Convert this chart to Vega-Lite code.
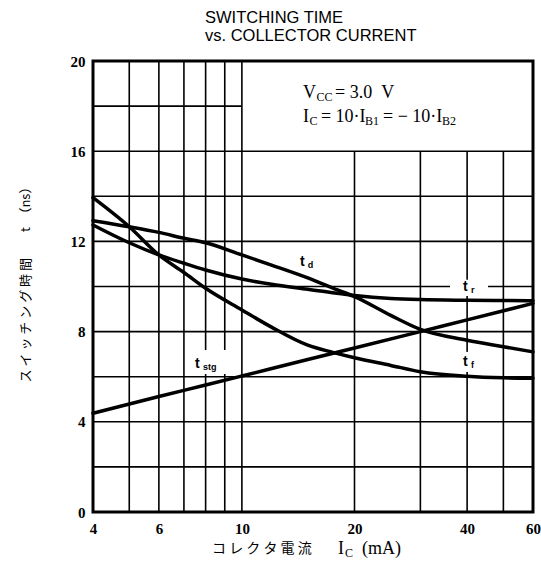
{
  "$schema": "https://vega.github.io/schema/vega-lite/v6.json",
  "width": 440,
  "height": 451,
  "autosize": {"type": "none"},
  "padding": {"left": 93, "top": 61, "right": 8, "bottom": 63},
  "background": "white",
  "title": {
    "text": ["SWITCHING TIME", "vs. COLLECTOR CURRENT"],
    "anchor": "start",
    "frame": "group",
    "dx": 112,
    "offset": 10,
    "font": "Liberation Sans",
    "fontSize": 16.5,
    "fontWeight": "normal",
    "lineHeight": 18,
    "color": "black"
  },
  "config": {
    "view": {"stroke": "black", "strokeWidth": 3},
    "axis": {
      "grid": false,
      "domain": false,
      "ticks": false,
      "labelFont": "Liberation Serif",
      "labelFontWeight": "bold",
      "labelFontSize": 15,
      "labelColor": "black"
    }
  },
  "datasets": {
    "curves": [
      {"series": "tf", "ic": 4, "t": 13.94}, {"series": "tf", "ic": 5, "t": 12.65}, {"series": "tf", "ic": 6, "t": 11.4},
      {"series": "tf", "ic": 7, "t": 10.62}, {"series": "tf", "ic": 8, "t": 9.92}, {"series": "tf", "ic": 10, "t": 8.96},
      {"series": "tf", "ic": 12, "t": 8.2}, {"series": "tf", "ic": 15, "t": 7.4}, {"series": "tf", "ic": 17.5, "t": 7.08},
      {"series": "tf", "ic": 20, "t": 6.84}, {"series": "tf", "ic": 25, "t": 6.5}, {"series": "tf", "ic": 30, "t": 6.22},
      {"series": "tf", "ic": 40, "t": 6.02}, {"series": "tf", "ic": 50, "t": 5.95}, {"series": "tf", "ic": 60, "t": 5.93},
      {"series": "td", "ic": 4, "t": 12.92}, {"series": "td", "ic": 5, "t": 12.65}, {"series": "td", "ic": 6, "t": 12.4},
      {"series": "td", "ic": 7, "t": 12.14}, {"series": "td", "ic": 8, "t": 11.94}, {"series": "td", "ic": 10, "t": 11.4},
      {"series": "td", "ic": 12, "t": 10.95}, {"series": "td", "ic": 15, "t": 10.38}, {"series": "td", "ic": 18, "t": 9.85},
      {"series": "td", "ic": 20, "t": 9.55}, {"series": "td", "ic": 25, "t": 8.72}, {"series": "td", "ic": 30, "t": 8.1},
      {"series": "td", "ic": 40, "t": 7.62}, {"series": "td", "ic": 50, "t": 7.33}, {"series": "td", "ic": 60, "t": 7.1},
      {"series": "tr", "ic": 4, "t": 12.73}, {"series": "tr", "ic": 5, "t": 11.94}, {"series": "tr", "ic": 6, "t": 11.4},
      {"series": "tr", "ic": 7, "t": 11.03}, {"series": "tr", "ic": 8, "t": 10.73}, {"series": "tr", "ic": 10, "t": 10.33},
      {"series": "tr", "ic": 12, "t": 10.1}, {"series": "tr", "ic": 15, "t": 9.88}, {"series": "tr", "ic": 20, "t": 9.6},
      {"series": "tr", "ic": 25, "t": 9.47}, {"series": "tr", "ic": 30, "t": 9.42}, {"series": "tr", "ic": 40, "t": 9.39},
      {"series": "tr", "ic": 60, "t": 9.37},
      {"series": "tstg", "ic": 4, "t": 4.38}, {"series": "tstg", "ic": 6, "t": 5.12}, {"series": "tstg", "ic": 8, "t": 5.63},
      {"series": "tstg", "ic": 10, "t": 6.03}, {"series": "tstg", "ic": 15, "t": 6.76}, {"series": "tstg", "ic": 20, "t": 7.27},
      {"series": "tstg", "ic": 30, "t": 8.0}, {"series": "tstg", "ic": 40, "t": 8.52}, {"series": "tstg", "ic": 60, "t": 9.25}
    ],
    "vgrid": [
      {"x": 5, "lo": 0, "hi": 20}, {"x": 6, "lo": 0, "hi": 20}, {"x": 7, "lo": 0, "hi": 20},
      {"x": 8, "lo": 0, "hi": 20}, {"x": 9, "lo": 0, "hi": 20}, {"x": 10, "lo": 0, "hi": 20},
      {"x": 20, "lo": 0, "hi": 16}, {"x": 30, "lo": 0, "hi": 16}, {"x": 40, "lo": 0, "hi": 16}, {"x": 50, "lo": 0, "hi": 16}
    ],
    "hgrid": [
      {"y": 2, "from": 4, "to": 60}, {"y": 4, "from": 4, "to": 60}, {"y": 6, "from": 4, "to": 60},
      {"y": 8, "from": 4, "to": 60}, {"y": 10, "from": 4, "to": 60}, {"y": 12, "from": 4, "to": 60},
      {"y": 14, "from": 4, "to": 60}, {"y": 16, "from": 4, "to": 60}, {"y": 18, "from": 4, "to": 10}
    ],
    "boxes": [
      {"x1": 7.45, "x2": 9.15, "y1": 6.12, "y2": 7.18},
      {"x1": 36, "x2": 45.5, "y1": 9.58, "y2": 10.3},
      {"x1": 37.8, "x2": 43.8, "y1": 6.21, "y2": 7.1}
    ],
    "texts": [
      {"seg": "V", "x": 14.57, "y": 18.58, "kind": "serif"},
      {"seg": "CC", "x": 15.83, "y": 18.58, "kind": "serifsub"},
      {"seg": "=\u00a03.0\u00a0\u00a0V", "x": 17.74, "y": 18.58, "kind": "serif"},
      {"seg": "I", "x": 14.57, "y": 17.52, "kind": "serif"},
      {"seg": "C", "x": 15.16, "y": 17.52, "kind": "serifsub"},
      {"seg": "=\u00a010·I", "x": 16.27, "y": 17.52, "kind": "serif"},
      {"seg": "B1", "x": 21.34, "y": 17.52, "kind": "serifsub"},
      {"seg": "=\u00a0−\u00a010·I", "x": 23.84, "y": 17.52, "kind": "serif"},
      {"seg": "B2", "x": 34.27, "y": 17.52, "kind": "serifsub"},
      {"seg": "t", "x": 14.3, "y": 11.09, "kind": "lab"},
      {"seg": "d", "x": 15.0, "y": 11.09, "kind": "labsub"},
      {"seg": "t", "x": 39.0, "y": 9.98, "kind": "lab"},
      {"seg": "r", "x": 40.97, "y": 9.98, "kind": "labsub"},
      {"seg": "t", "x": 39.0, "y": 6.65, "kind": "lab"},
      {"seg": "f", "x": 40.97, "y": 6.65, "kind": "labsub"},
      {"seg": "t", "x": 7.49, "y": 6.56, "kind": "lab"},
      {"seg": "stg", "x": 7.87, "y": 6.56, "kind": "labsub"},
      {"seg": "コ レ ク タ 電 流", "x": 8.32, "y": -1.64, "kind": "cjk"},
      {"seg": "I", "x": 18.07, "y": -1.64, "kind": "serif"},
      {"seg": "C", "x": 18.86, "y": -1.64, "kind": "serifsub"},
      {"seg": "(mA)", "x": 20.95, "y": -1.64, "kind": "serif"}
    ]
  },
  "layer": [
    {
      "data": {"name": "vgrid"},
      "mark": {"type": "rule", "color": "black", "strokeWidth": 1.6},
      "encoding": {
        "x": {
          "field": "x", "type": "quantitative",
          "scale": {"type": "log", "domain": [4, 60], "nice": false},
          "axis": {"values": [4, 6, 10, 20, 40, 60], "title": null, "labelPadding": 9, "labelFlush": false, "labelOverlap": false, "format": "d"}
        },
        "y": {
          "field": "lo", "type": "quantitative",
          "scale": {"domain": [0, 20], "nice": false, "zero": false},
          "axis": {
            "values": [0, 4, 8, 12, 16, 20], "labelPadding": 8, "format": "d",
            "title": "ス イ ッ チ ン グ 時 間　　t　（ns）",
            "titleFont": "Noto Sans CJK JP", "titleFontSize": 13, "titleFontWeight": "normal",
            "titleColor": "black", "titleX": -68, "titleY": 220, "titleAlign": "center", "titleBaseline": "middle"
          }
        },
        "y2": {"field": "hi"}
      }
    },
    {
      "data": {"name": "hgrid"},
      "mark": {"type": "rule", "color": "black", "strokeWidth": 1.6},
      "encoding": {
        "y": {"field": "y", "type": "quantitative"},
        "x": {"field": "from", "type": "quantitative"},
        "x2": {"field": "to"}
      }
    },
    {
      "data": {"name": "boxes"},
      "mark": {"type": "rect", "fill": "white"},
      "encoding": {
        "x": {"field": "x1", "type": "quantitative"},
        "x2": {"field": "x2"},
        "y": {"field": "y1", "type": "quantitative"},
        "y2": {"field": "y2"}
      }
    },
    {
      "data": {"name": "curves"},
      "mark": {"type": "line", "color": "black", "strokeWidth": 3.5, "interpolate": "monotone", "strokeCap": "round"},
      "encoding": {
        "x": {"field": "ic", "type": "quantitative"},
        "y": {"field": "t", "type": "quantitative"},
        "detail": {"field": "series"}
      }
    },
    {
      "data": {"name": "texts"},
      "transform": [{"filter": "datum.kind === 'serif'"}],
      "mark": {"type": "text", "align": "left", "baseline": "middle", "font": "Liberation Serif", "fontSize": 18, "color": "black"},
      "encoding": {
        "x": {"field": "x", "type": "quantitative"},
        "y": {"field": "y", "type": "quantitative"},
        "text": {"field": "seg"}
      }
    },
    {
      "data": {"name": "texts"},
      "transform": [{"filter": "datum.kind === 'serifsub'"}],
      "mark": {"type": "text", "align": "left", "baseline": "middle", "font": "Liberation Serif", "fontSize": 12, "dy": 4, "color": "black"},
      "encoding": {
        "x": {"field": "x", "type": "quantitative"},
        "y": {"field": "y", "type": "quantitative"},
        "text": {"field": "seg"}
      }
    },
    {
      "data": {"name": "texts"},
      "transform": [{"filter": "datum.kind === 'lab'"}],
      "mark": {"type": "text", "align": "left", "baseline": "middle", "font": "Liberation Sans", "fontSize": 14, "fontWeight": "bold", "color": "black"},
      "encoding": {
        "x": {"field": "x", "type": "quantitative"},
        "y": {"field": "y", "type": "quantitative"},
        "text": {"field": "seg"}
      }
    },
    {
      "data": {"name": "texts"},
      "transform": [{"filter": "datum.kind === 'labsub'"}],
      "mark": {"type": "text", "align": "left", "baseline": "middle", "font": "Liberation Sans", "fontSize": 9, "fontWeight": "bold", "dy": 3, "color": "black"},
      "encoding": {
        "x": {"field": "x", "type": "quantitative"},
        "y": {"field": "y", "type": "quantitative"},
        "text": {"field": "seg"}
      }
    },
    {
      "data": {"name": "texts"},
      "transform": [{"filter": "datum.kind === 'cjk'"}],
      "mark": {"type": "text", "align": "left", "baseline": "middle", "font": "Noto Sans CJK JP", "fontSize": 14, "color": "black"},
      "encoding": {
        "x": {"field": "x", "type": "quantitative"},
        "y": {"field": "y", "type": "quantitative"},
        "text": {"field": "seg"}
      }
    }
  ]
}
